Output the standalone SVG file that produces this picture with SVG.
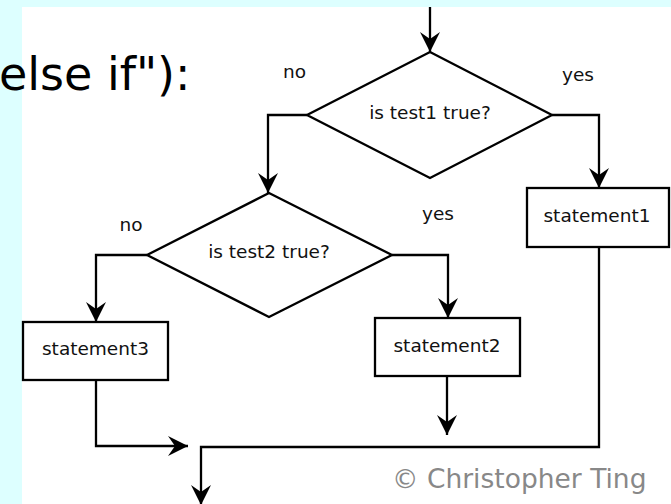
<svg xmlns="http://www.w3.org/2000/svg" width="671" height="504" viewBox="0 0 671 504">
  <style>
    .shape { fill: #ffffff; stroke: #000000; stroke-width: 2.3; }
    .wire { fill: none; stroke: #000000; stroke-width: 2.3; }
    .label { font-family: "DejaVu Sans", "Liberation Sans", sans-serif; font-size: 18.5px; fill: #111111; text-anchor: middle; }
    .heading { font-family: "DejaVu Sans", "Liberation Sans", sans-serif; font-size: 46px; fill: #000000; }
    .credit { font-family: "DejaVu Sans", "Liberation Sans", sans-serif; font-size: 26.5px; fill: #888888; }
  </style>
  <defs>
    <marker id="arrow" markerUnits="userSpaceOnUse" markerWidth="22" markerHeight="22" refX="0" refY="0" orient="auto" overflow="visible">
      <path d="M0,0 L-20,-10 L-13,0 L-20,10 Z" fill="#000000"/>
    </marker>
  </defs>

  <!-- slide background and white panel -->
  <rect x="0" y="0" width="671" height="504" fill="#ddffff"/>
  <rect x="22" y="7" width="649" height="497" fill="#ffffff"/>

  <text class="heading" x="-1" y="90">else if"):</text>

  <!-- connectors -->
  <g id="connectors">
    <path class="wire" d="M430,7 V52" marker-end="url(#arrow)"/>
    <path class="wire" d="M307,115 H268 V193" marker-end="url(#arrow)"/>
    <path class="wire" d="M552,115 H599 V188" marker-end="url(#arrow)"/>
    <path class="wire" d="M147,255 H96 V322" marker-end="url(#arrow)"/>
    <path class="wire" d="M392,255 H448 V318" marker-end="url(#arrow)"/>
    <path class="wire" d="M96,380 V446 H188" marker-end="url(#arrow)"/>
    <path class="wire" d="M447,376 V435" marker-end="url(#arrow)"/>
    <path class="wire" d="M599,247 V447 H201 V505" marker-end="url(#arrow)"/>
    <text class="label" x="294.5" y="78">no</text>
    <text class="label" x="578" y="81">yes</text>
    <text class="label" x="131" y="231">no</text>
    <text class="label" x="438" y="220">yes</text>
  </g>

  <g id="test1">
    <polygon class="shape" points="430,52 552,115 430,178 307,115"/>
    <text class="label" x="430" y="119">is test1 true?</text>
  </g>

  <g id="test2">
    <polygon class="shape" points="269,193 392,255 269,317 147,255"/>
    <text class="label" x="269" y="258">is test2 true?</text>
  </g>

  <g id="statement1">
    <rect class="shape" x="527" y="188" width="142" height="59"/>
    <text class="label" x="597" y="222">statement1</text>
  </g>

  <g id="statement2">
    <rect class="shape" x="375" y="318" width="145" height="58"/>
    <text class="label" x="447" y="352">statement2</text>
  </g>

  <g id="statement3">
    <rect class="shape" x="23" y="322" width="145" height="58"/>
    <text class="label" x="95.5" y="355">statement3</text>
  </g>

  <text class="credit" x="392" y="488">© Christopher Ting</text>
</svg>
